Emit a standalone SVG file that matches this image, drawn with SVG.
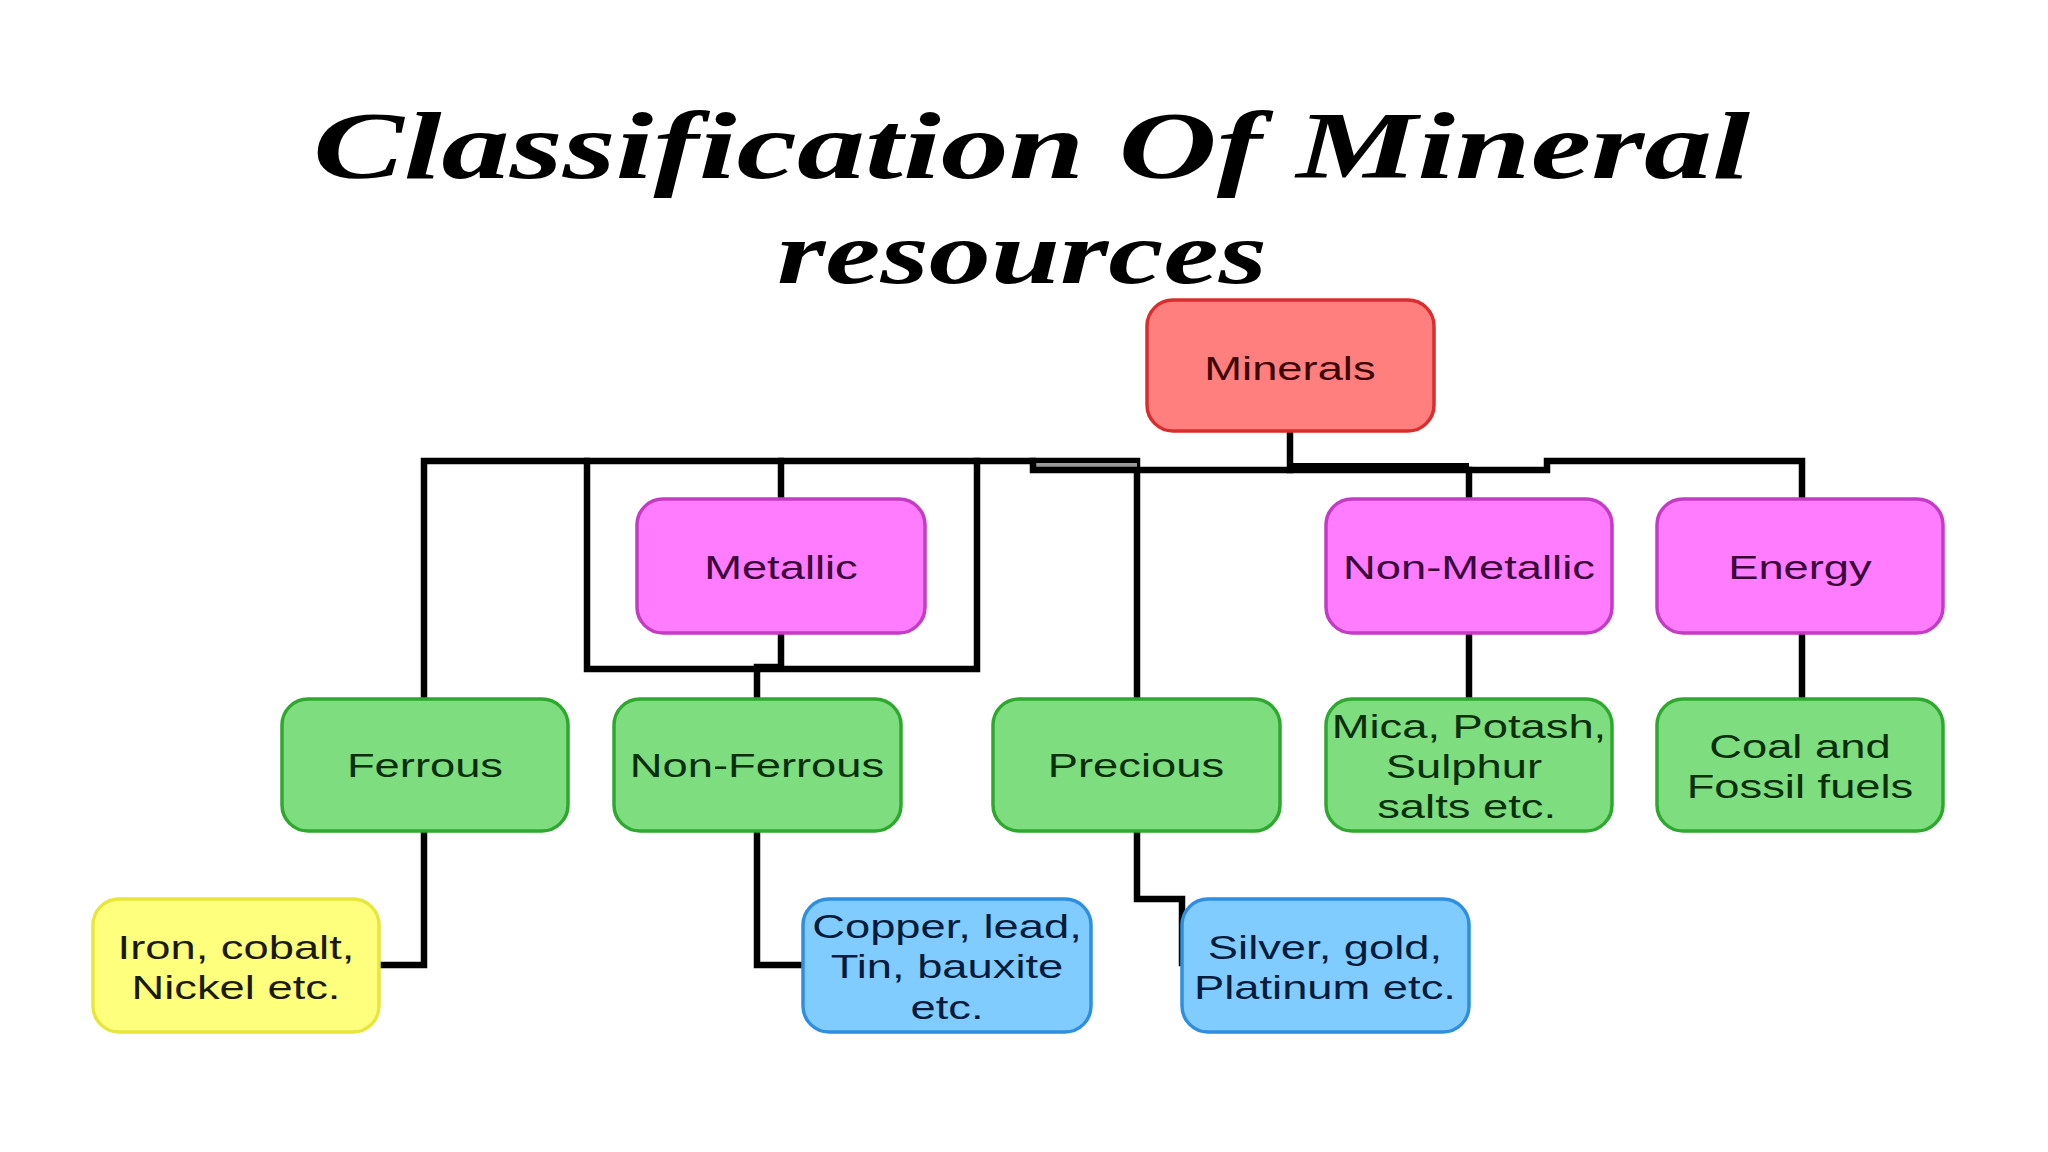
<svg xmlns="http://www.w3.org/2000/svg" width="2048" height="1152" viewBox="0 0 2048 1152">
<style>
  .box { stroke-width: 3.5; }
  .red { fill: #FF7E7E; stroke: #D92E2E; }
  .mag { fill: #FF7CFF; stroke: #C43CC4; }
  .grn { fill: #7EDD7E; stroke: #2FA82F; }
  .yel { fill: #FFFF7E; stroke: #E6E63C; }
  .blu { fill: #80CBFF; stroke: #2E8EDF; }
  .lbl { font-family: "Liberation Sans", Arial, sans-serif; font-size: 34px; text-anchor: middle; }
  .tred { fill: #3a0505; }
  .tmag { fill: #3a063a; }
  .tgrn { fill: #0b2e0b; }
  .tyel { fill: #1a1a05; }
  .tblu { fill: #071c3a; }
  .title { font-family: "Liberation Serif", "Times New Roman", serif; font-style: italic; font-weight: bold; fill: #000; }
  .ln { fill: none; stroke: #000; stroke-width: 6.5; stroke-linejoin: miter; stroke-linecap: square; }
</style>
<rect width="2048" height="1152" fill="#ffffff"/>

<g id="title">
  <text class="title" x="313" y="178" font-size="96" textLength="1437" lengthAdjust="spacingAndGlyphs">Classification Of Mineral</text>
  <text class="title" x="777" y="283" font-size="88" textLength="490" lengthAdjust="spacingAndGlyphs">resources</text>
</g>

<g id="connectors">
  <polyline class="ln" points="424,699 424,461 1137,461 1137,699"/>
  <polyline class="ln" points="587,461 587,669 977,669 977,461"/>
  <line class="ln" x1="781" y1="461" x2="781" y2="499"/>
  <polyline class="ln" points="781,633 781,667 757,667 757,699"/>
  <rect x="1033" y="463" width="104" height="5" fill="#9a9a9a"/>
  <polyline class="ln" points="1033,461 1033,470 1547,470 1547,461 1802,461 1802,499"/>
  <rect x="1290" y="463" width="179" height="9" fill="#000"/>
  <line class="ln" x1="1290" y1="431" x2="1290" y2="470"/>
  <line class="ln" x1="1469" y1="470" x2="1469" y2="499"/>
  <line class="ln" x1="1469" y1="633" x2="1469" y2="699"/>
  <line class="ln" x1="1802" y1="633" x2="1802" y2="699"/>
  <polyline class="ln" points="424,831 424,965 379,965"/>
  <polyline class="ln" points="757,831 757,965 803,965"/>
  <polyline class="ln" points="1137,831 1137,899 1182,899 1182,963"/>
</g>

<g id="node-minerals"><rect class="box red" x="1147" y="300" width="287" height="131" rx="26"/></g>
<g id="node-metallic"><rect class="box mag" x="637" y="499" width="288" height="134" rx="26"/></g>
<g id="node-nonmetallic"><rect class="box mag" x="1326" y="499" width="286" height="134" rx="26"/></g>
<g id="node-energy"><rect class="box mag" x="1657" y="499" width="286" height="134" rx="26"/></g>
<g id="node-ferrous"><rect class="box grn" x="282" y="699" width="286" height="132" rx="26"/></g>
<g id="node-nonferrous"><rect class="box grn" x="614" y="699" width="287" height="132" rx="26"/></g>
<g id="node-precious"><rect class="box grn" x="993" y="699" width="287" height="132" rx="26"/></g>
<g id="node-mica"><rect class="box grn" x="1326" y="699" width="286" height="132" rx="26"/></g>
<g id="node-coal"><rect class="box grn" x="1657" y="699" width="286" height="132" rx="26"/></g>
<g id="node-iron"><rect class="box yel" x="93" y="899" width="286" height="133" rx="26"/></g>
<g id="node-copper"><rect class="box blu" x="803" y="899" width="288" height="133" rx="26"/></g>
<g id="node-silver"><rect class="box blu" x="1182" y="899" width="287" height="133" rx="26"/></g>

<g id="labels" transform="scale(1.3333,1)">
  <text class="lbl tred" x="967.5" y="380">Minerals</text>
  <text class="lbl tmag" x="585.75" y="579">Metallic</text>
  <text class="lbl tmag" x="1101.75" y="579">Non-Metallic</text>
  <text class="lbl tmag" x="1350" y="579">Energy</text>
  <text class="lbl tgrn" x="318.75" y="777">Ferrous</text>
  <text class="lbl tgrn" x="567.75" y="777">Non-Ferrous</text>
  <text class="lbl tgrn" x="852" y="777">Precious</text>
  <text class="lbl tgrn" x="1101.75" y="738">Mica, Potash,</text>
  <text class="lbl tgrn" x="1098" y="778">Sulphur</text>
  <text class="lbl tgrn" x="1100" y="818">salts etc.</text>
  <text class="lbl tgrn" x="1350" y="758">Coal and</text>
  <text class="lbl tgrn" x="1350" y="798">Fossil fuels</text>
  <text class="lbl tyel" x="177" y="959">Iron, cobalt,</text>
  <text class="lbl tyel" x="177" y="999">Nickel etc.</text>
  <text class="lbl tblu" x="710.25" y="938">Copper, lead,</text>
  <text class="lbl tblu" x="710.25" y="978">Tin, bauxite</text>
  <text class="lbl tblu" x="710.25" y="1019">etc.</text>
  <text class="lbl tblu" x="993.75" y="959">Silver, gold,</text>
  <text class="lbl tblu" x="993.75" y="999">Platinum etc.</text>
</g>
</svg>
